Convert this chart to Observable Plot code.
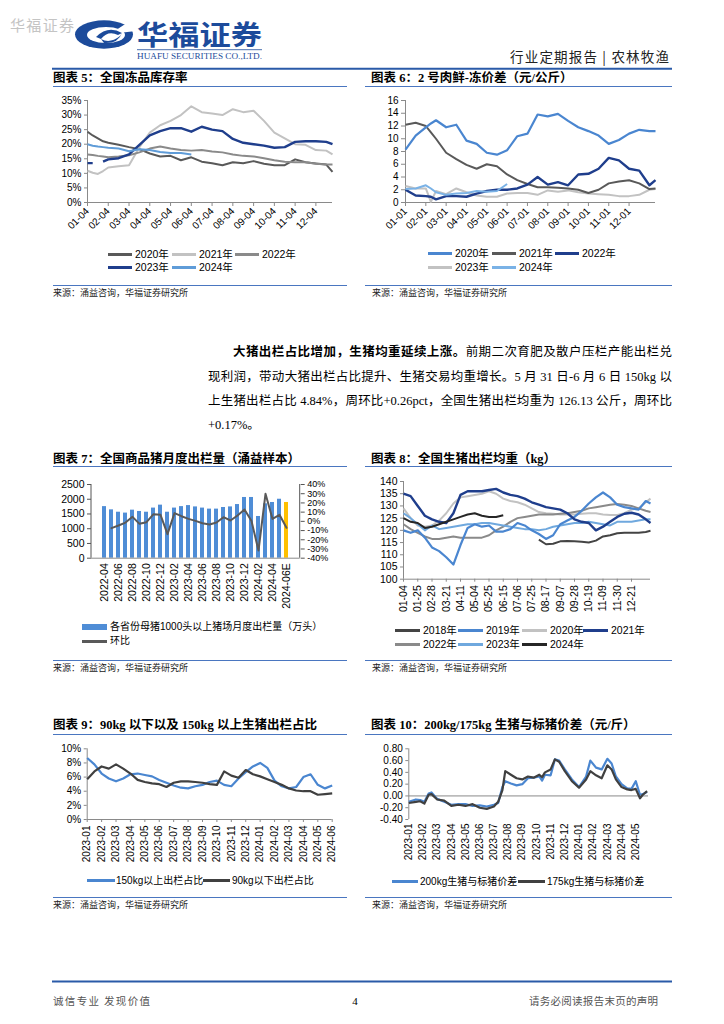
<!DOCTYPE html>
<html><head><meta charset="utf-8">
<script src="https://cdn.jsdelivr.net/npm/d3@7"></script>
<script src="https://cdn.jsdelivr.net/npm/@observablehq/plot@0.6"></script>
<style>
body{margin:0;background:#fff;}
#page{position:relative;width:724px;height:1024px;overflow:hidden;font-family:"Liberation Sans","Noto Sans CJK SC",sans-serif;color:#000;}
.title{position:absolute;white-space:nowrap;font-family:"Liberation Serif","Noto Sans CJK SC",serif;font-weight:700;font-size:12.5px;line-height:14px;}
.rule{position:absolute;height:0;border-top:1.5px solid #4a76c0;}
.src{position:absolute;white-space:nowrap;font-size:9px;line-height:10px;color:#222;font-family:"Noto Sans CJK SC",sans-serif;}
.leg{position:absolute;white-space:nowrap;font-size:10.5px;line-height:12px;font-family:"Liberation Sans","Noto Sans CJK SC",sans-serif;}
.sw{position:absolute;}
.para{position:absolute;white-space:nowrap;font-family:"Liberation Serif","Noto Sans CJK SC",serif;font-size:12.5px;line-height:16px;text-align:justify;text-align-last:justify;}
.chart{position:absolute;}
</style>
</head><body><div id="page">
<svg id="hdr" width="724" height="80" style="position:absolute;left:0;top:0">
  <text x="10" y="31" font-size="15" fill="#c4c4c4" font-family="Noto Sans CJK SC" textLength="64">华福证券</text>
  <ellipse cx="104" cy="34.5" rx="29" ry="14.2" fill="#1c4b9b"/>
  <ellipse cx="106" cy="35" rx="19" ry="8" fill="#fff"/>
  <polygon points="110,34 136,17 136,31" fill="#fff"/>
  <path d="M96,37 Q108,25 122,33 L118,35 Q108,30 101,39 Z" fill="#1c4b9b"/>
  <path d="M101,39 Q110,44 120,36 L122,33 Q118,44 104,43 Z" fill="#1c4b9b"/>
  <text x="137" y="45" font-size="27" font-weight="700" fill="#1c4b9b" font-family="Noto Sans CJK SC" textLength="125" lengthAdjust="spacingAndGlyphs">华福证券</text>
  <line x1="137" x2="262" y1="49.7" y2="49.7" stroke="#1c4b9b" stroke-width="0.8"/>
  <text x="137" y="58.5" font-size="8" fill="#1c4b9b" font-family="Liberation Serif" textLength="125" lengthAdjust="spacingAndGlyphs">HUAFU SECURITIES CO.,LTD.</text>
  <text x="669" y="62" font-size="13.5" text-anchor="end" fill="#222" font-family="Noto Sans CJK SC" textLength="159">行业定期报告 | 农林牧渔</text>
  <line x1="52" x2="672" y1="68.7" y2="68.7" stroke="#2a5aa8" stroke-width="2"/>
</svg>
<svg id="ftr" width="724" height="50" style="position:absolute;left:0;top:974">
  <line x1="52" x2="672" y1="7.5" y2="7.5" stroke="#2a5aa8" stroke-width="2"/>
  <text x="53" y="31" font-size="10.5" fill="#555" font-family="Noto Sans CJK SC" textLength="97">诚信专业  发现价值</text>
  <text x="355" y="31" font-size="11" text-anchor="middle" fill="#000" font-family="Liberation Serif">4</text>
  <text x="658" y="31" font-size="10.5" text-anchor="end" fill="#555" font-family="Noto Sans CJK SC" textLength="129">请务必阅读报告末页的声明</text>
</svg>
</div>
<script>
// ---------------- DATA ----------------
// Chart 5: 全国冻品库存率 (%), x in months from 01-04
const c5X = [0, 0.25, 0.5, 0.75, 1, 1.5, 2, 2.5, 3, 3.5, 4, 4.5, 5, 5.5, 6, 6.5, 7, 7.5, 8, 8.5, 9, 9.5, 10, 10.5, 11, 11.5, 11.8];
const c5TickLabels = ["01-04","02-04","03-04","04-04","05-04","06-04","07-04","08-04","09-04","10-04","11-04","12-04"];
const c5TickPos = [0,1,2,3,4,5,6,7,8,9,10,11];
const c5Y2020 = [24.3,23,22,21,20.5,19.8,19,18.3,16.8,15.8,16,14.5,15.5,14,13.5,12.8,13.8,13.5,14.2,13.3,12.8,12.8,14.8,13.8,13.4,13,10.5];
const c5Y2021 = [10.9,10.2,9.8,10.8,12,12.4,12.8,19,24,26.5,28,30,33,31,30.5,30,32,31,31.5,28,24,22,20,19.8,18,17.8,16.5];
const c5Y2022 = [16.5,16.3,16,15.8,15.5,15.8,16.2,17.2,18.5,19.2,18.5,18,17.8,18,17.5,17.2,16.5,16,15.8,15.2,14.5,14,13.8,13.8,13.3,13,13];
const c5Y2023 = [13.5,13.5,null,14,14.8,15.2,16.5,19.8,23,24.5,25.5,25.5,24.3,26,25,24.5,21.8,20.5,20,19.5,18.8,19,20.8,21,21,20.8,20];
const c5Y2024 = [20,19.5,19.2,19,18.8,18.5,17.6,18.3,18,17.3,17,17,16.5,null,null,null,null,null,null,null,null,null,null,null,null,null,null];

// Chart 6: 2号肉鲜-冻价差 (元/公斤), x in months from 01-01
const c6X = [0,0.5,1,1.25,1.5,2,2.5,3,3.5,4,4.5,5,5.5,6,6.5,7,7.5,8,8.5,9,9.5,10,10.5,11,11.5,12,12.3];
const c6TickLabels = ["01-01","02-01","03-01","04-01","05-01","06-01","07-01","08-01","09-01","10-01","11-01","12-01"];
const c6TickPos = [0,1,2,3,4,5,6,7,8,9,10,11];
const c6Y2020 = [8.3,10.5,11.8,12.4,12.9,11.8,12.2,9.7,9.2,7.8,7.5,8.2,10.4,10.8,13.8,13.5,13.9,12.8,11.8,11.2,10.5,9.2,9.8,10.8,11.4,11.2,11.2];
const c6Y2021 = [12.2,12.5,12,11,10,7.8,6.8,5.9,5.3,6,5.7,4.4,3.5,2.9,2.4,2.4,2.3,2.2,2,1.5,2,3,3.3,3.5,3,2.1,2.2];
const c6Y2022 = [2,1.1,1,0.9,0.5,1,1,0.9,1.4,1.8,2,2,2.2,2.8,4,2.8,3.2,2.7,4.4,4.5,5.3,7,6.6,5.3,5,2.7,3.5];
const c6Y2023 = [2.6,2.2,2.2,0.1,1.8,1.3,2.2,1.6,1.1,0.9,0.9,1.4,1.5,1.5,1.2,1.9,1.7,1.9,1.6,1.4,1.3,1.2,1,1,1.2,2,2.1];
const c6Y2024 = [2.1,2.2,2.7,2.2,1.6,1.2,1.4,1.5,1.8,1.7,1.8,2.9,null,null,null,null,null,null,null,null,null,null,null,null,null,null,null];

// Chart 7: 全国商品猪月度出栏量 (万头) and 环比 (%)
const c7Months = ["2022-04","2022-05","2022-06","2022-07","2022-08","2022-09","2022-10","2022-11","2022-12",
  "2023-01","2023-02","2023-03","2023-04","2023-05","2023-06","2023-07","2023-08","2023-09","2023-10","2023-11","2023-12",
  "2024-01","2024-02","2024-03","2024-04","2024-05","2024-06E"];
const c7Volume = [1750,1640,1560,1530,1630,1585,1560,1700,1800,1560,1700,1750,1785,1740,1700,1665,1665,1720,1740,1820,2060,2060,1415,1845,1890,2000,1890];
const c7MoM = [null,-7.4,-4.5,-1.3,4.9,-2.7,-0.9,7.8,7.1,-13.9,8.9,5.6,2.7,0.5,-2,-3.4,-1.3,4.5,0.9,6.3,12.9,0.3,-31.7,29.9,2.7,7.1,-7];
const c7Estimated = ["2024-06E"];
const c7LeftTicks = [0,500,1000,1500,2000,2500];
const c7RightTicks = [-40,-30,-20,-10,0,10,20,30,40];

// Chart 8: 全国生猪出栏均重 (kg), x = weekly index
const c8X = [0,1.5,3,4.5,6,7.5,9,10.5,12,13.5,15,16.5,18,19.5,21,22.5,24,25.5,27,28.5,30,31.5,33,34.5,36,37.5,39,40.5,42,43.5,45,46.5,48,49.5,51,52];
const c8TickPos = [0,3,6,9,12,15,18,21,24,27,30,33,36,39,42,45,48];
const c8TickLabels = ["01-04","01-25","02-28","03-21","04-11","05-04","05-25","06-15","07-06","07-25","08-17","09-07","09-28","10-19","11-09","11-30","12-21"];
const c8Y2018 = [null,null,null,null,null,null,null,null,null,null,null,null,null,null,null,null,null,null,null,116.2,114.3,114.5,115.5,115.6,115.5,115.3,115,115.8,117.5,118,118.8,119,119,119,119.3,119.8];
const c8Y2019 = [120,119,120,117,113,111.5,109,106,114,121,122.5,121.5,122,119.5,119.5,120.5,123,122,120,118.5,116.5,118,122.5,124,125.5,128,131,133.5,135.5,133.5,130.5,129.5,129,128.5,132,131];
const c8Y2020 = [129,125,122,121.5,122,124,127,131,133.5,134,134.5,135,136,135,133,132,131.5,130.5,129,127.5,127,126.8,126.5,126.5,126.5,126.8,127,127,126.5,126.3,126.3,127,128.5,129,131.5,133];
const c8Y2021 = [135,134,130,126,124.5,123.5,123,127,134.5,136,136,136,136.5,137,135.5,134.5,134,133,131.5,130.5,129.5,129,128.5,127,124.5,123.5,123,120,121.5,123.5,125.5,126.8,127.2,126.5,124.5,123];
const c8Y2022 = [122.5,120.5,119,117.5,116.5,116.5,117,117.5,117,117,117,117,118,120,121.5,123.5,125,125.5,126,126.5,126.5,126.5,126.8,127,127.5,128,129,129.5,130,130.5,130.8,130.5,130,129,128,127.5];
const c8Y2023 = [127,125,122.5,120,122,120.5,121,121.5,122,122.5,122.5,123,123,122.5,122,121.5,121,120.5,120.5,120,120.5,121.5,122,122.5,123,123,123.5,123,122.5,122,123.5,123.5,123.5,124,124.5,124.5];
const c8Y2024 = [125,123.5,123,121,121.5,122.5,123.5,124.5,125.5,126.5,127,126,125.5,125.5,126.2,null,null,null,null,null,null,null,null,null,null,null,null,null,null,null,null,null,null,null,null,null];

// Chart 9: 90kg以下 / 150kg以上 出栏占比 (%), x in months from 2023-01
const c9X = [0,0.5,1,1.5,2,2.5,3,3.5,4,4.5,5,5.5,6,6.5,7,7.5,8,8.5,9,9.5,10,10.5,11,11.5,12,12.5,13,13.5,14,14.5,15,15.5,16,16.5,17];
const c9TickLabels = ["2023-01","2023-02","2023-03","2023-04","2023-05","2023-06","2023-07","2023-08","2023-09","2023-10","2023-11","2023-12","2024-01","2024-02","2024-03","2024-04","2024-05","2024-06"];
const c9TickPos = [0,1,2,3,4,5,6,7,8,9,10,11,12,13,14,15,16,17];
const c9Over150 = [8.7,7.8,6.5,5.8,5.4,5.8,6.4,6.5,6.3,6.1,5.6,5.2,4.8,4.5,4.4,4.7,4.9,5.3,5.5,4.9,4.7,5.8,6.7,7.5,8,7.3,5.5,4.7,4.4,4.6,6,6.4,4.9,4.4,4.8];
const c9Under90 = [5.7,6.8,7.5,7.2,7.8,7.2,6.5,5.6,5.3,5.1,5,4.6,5.2,5.4,5.4,5.3,5.2,5,4.9,6.8,6.2,5.9,7,6.4,6.1,5.7,5.3,4.9,4.4,4.1,4,4,3.5,3.6,3.7];

// Chart 10: 200kg/175kg 生猪与标猪价差 (元/斤), x in months from 2023-01
const c10X = [0,0.5,0.8,1.1,1.4,1.6,2,2.5,3,3.5,4,4.5,5,5.5,6,6.3,6.6,6.8,7.2,7.6,8,8.4,8.8,9.2,9.4,9.6,10,10.3,10.6,11,11.5,12,12.5,12.8,13.2,13.6,14,14.3,14.6,15,15.4,15.7,16,16.3,16.5,16.8];
const c10TickLabels = ["2023-01","2023-02","2023-03","2023-04","2023-05","2023-06","2023-07","2023-08","2023-09","2023-10","2023-11","2023-12","2024-01","2024-02","2024-03","2024-04","2024-05"];
const c10TickPos = [0,1,2,3,4,5,6,7,8,9,10,11,12,13,14,15,16];
const c10Spread200 = [-0.10,-0.06,-0.07,-0.10,0.04,0.06,-0.05,-0.10,-0.15,-0.14,-0.14,-0.17,-0.16,-0.18,-0.15,-0.12,0.15,0.25,0.21,0.18,0.20,0.30,0.31,0.33,0.26,0.36,0.35,0.62,0.60,0.45,0.28,0.15,0.33,0.60,0.48,0.45,0.63,0.55,0.33,0.20,0.13,0.12,0.25,0.02,0.03,0.07];
const c10Spread175 = [-0.12,-0.10,-0.09,-0.13,0.02,0.03,-0.06,-0.08,-0.17,-0.15,-0.17,-0.14,-0.20,-0.22,-0.18,-0.10,0.10,0.42,0.36,0.30,0.28,0.33,0.31,0.36,0.32,0.40,0.45,0.62,0.58,0.42,0.25,0.14,0.28,0.42,0.35,0.30,0.52,0.45,0.28,0.15,0.11,0.10,0.12,-0.04,0.02,0.08];

// ---------------- COLOURS ----------------
const NAVY = "#1f3e8c", MEDBLUE = "#4a86d0", LBLUE = "#6fa8de", DGREY = "#595959", MGREY = "#8a8a8a", LGREY = "#c2c2c2";
const AXIS = "#8a8a8a";

// ---------------- HELPERS ----------------
const page = document.getElementById("page");
function el(cls, css, html) { const d = document.createElement("div"); d.className = cls; Object.assign(d.style, css); if (html != null) d.innerHTML = html; page.appendChild(d); return d; }
function rows(xs, ys) { return xs.map((x, i) => ({x, y: ys[i] == null ? NaN : ys[i]})); }
function labeler(pos, labels) { const m = new Map(pos.map((p, i) => [p, labels[i]])); return d => m.get(d); }
function place(svg, left, top) { const d = el("chart", {left: left + "px", top: top + "px"}); d.appendChild(svg); }
function leg(x1, x2, y, color, label, thick = 3) {
  el("sw", {left: x1 + "px", top: (y - thick / 2) + "px", width: (x2 - x1) + "px", height: thick + "px", background: color});
  if (label) el("leg", {left: (x2 + 3) + "px", top: (y - 6.5) + "px"}, label);
}
const NS = "http://www.w3.org/2000/svg";
function sideLines(sides, color) {
  return (index, scales, values, dim) => {
    const g = document.createElementNS(NS, "g");
    const L = dim.marginLeft, R = dim.width - dim.marginRight, T = dim.marginTop, B = dim.height - dim.marginBottom;
    const seg = {left: [L, T, L, B], right: [R, T, R, B], bottom: [L, B, R, B]};
    for (const s of sides) {
      const [x1, y1, x2, y2] = seg[s];
      const l = document.createElementNS(NS, "line");
      l.setAttribute("x1", x1); l.setAttribute("y1", y1); l.setAttribute("x2", x2); l.setAttribute("y2", y2);
      l.setAttribute("stroke", color); l.setAttribute("stroke-width", 1);
      g.appendChild(l);
    }
    return g;
  };
}
const baseStyle = (fs) => ({fontFamily: '"Liberation Sans","Noto Sans CJK SC",sans-serif', fontSize: fs + "px", background: "transparent", overflow: "visible", color: "#000"});
const line = (data, color, w = 2) => Plot.line(data, {x: "x", y: "y", stroke: color, strokeWidth: w, strokeLinejoin: "round", strokeLinecap: "butt"});

// ---------------- TEXT BLOCKS ----------------
function block(col, titleTop, title, ruleTop, bottomRuleTop) {
  const left = col === 0 ? 53 : 371, rl = col === 0 ? 53 : 365, rr = col === 0 ? 347 : 672;
  el("title", {left: left + "px", top: titleTop + "px"}, title);
  el("rule", {left: rl + "px", top: ruleTop + "px", width: (rr - rl) + "px"});
  el("rule", {left: rl + "px", top: bottomRuleTop + "px", width: (rr - rl) + "px"});
  el("src", {left: (col === 0 ? 53 : 372) + "px", top: (bottomRuleTop + 3) + "px"}, "来源：涌益咨询，华福证券研究所");
}
block(0, 71, "图表 5：全国冻品库存率", 86, 285);
block(1, 71, "图表 6：2 号肉鲜-冻价差（元/公斤）", 86, 285);
block(0, 452, "图表 7：全国商品猪月度出栏量（涌益样本）", 466, 660);
block(1, 452, "图表 8：全国生猪出栏均重（kg）", 466, 660);
block(0, 718, "图表 9：90kg 以下以及 150kg 以上生猪出栏占比", 734, 897);
block(1, 718, "图表 10：200kg/175kg 生猪与标猪价差（元/斤）", 734, 897);

el("para", {left: "233px", top: "344px", width: "439px"}, "<b>大猪出栏占比增加，生猪均重延续上涨。</b>前期二次育肥及散户压栏产能出栏兑");
el("para", {left: "208px", top: "369px", width: "464px"}, "现利润，带动大猪出栏占比提升、生猪交易均重增长。5 月 31 日-6 月 6 日 150kg 以");
el("para", {left: "208px", top: "393px", width: "464px"}, "上生猪出栏占比 4.84%，周环比+0.26pct，全国生猪出栏均重为 126.13 公斤，周环比");
el("para", {left: "208px", top: "417px", textAlignLast: "left", textAlign: "left"}, "+0.17%。");

// ---------------- CHART 5 ----------------
place(Plot.plot({
  width: 312, height: 165, marginLeft: 47, marginRight: 20, marginTop: 10, marginBottom: 53,
  style: baseStyle(10),
  x: {domain: [0, 11.8], label: null},
  y: {domain: [0, 35], label: null},
  marks: [
    Plot.ruleX([0], {stroke: AXIS}),
    Plot.ruleY([0], {stroke: AXIS}),
    Plot.axisY([0,5,10,15,20,25,30,35], {tickFormat: d => d + "%", tickSize: 3, tickPadding: 3, stroke: AXIS, label: null}),
    Plot.axisX(c5TickPos, {tickFormat: labeler(c5TickPos, c5TickLabels), tickRotate: -45, tickSize: 4, tickPadding: 3, stroke: AXIS, label: null}),
    line(rows(c5X, c5Y2020), DGREY),
    line(rows(c5X, c5Y2021), LGREY),
    line(rows(c5X, c5Y2022), MGREY),
    line(rows(c5X, c5Y2023), NAVY, 2.4),
    line(rows(c5X, c5Y2024), "#5f9cd8")
  ]
}), 40, 90);
leg(108, 132, 254, DGREY, "2020年");
leg(172, 196, 254, LGREY, "2021年");
leg(235, 259, 254, MGREY, "2022年");
leg(108, 132, 267, NAVY, "2023年");
leg(172, 196, 267, "#5f9cd8", "2024年");

// ---------------- CHART 6 ----------------
place(Plot.plot({
  width: 305, height: 165, marginLeft: 40, marginRight: 15, marginTop: 10, marginBottom: 53,
  style: baseStyle(10),
  x: {domain: [0, 12.3], label: null},
  y: {domain: [0, 16], label: null},
  marks: [
    Plot.ruleX([0], {stroke: AXIS}),
    Plot.ruleY([0], {stroke: AXIS}),
    Plot.axisY([0,2,4,6,8,10,12,14,16], {tickSize: 4, tickPadding: 3, stroke: AXIS, label: null}),
    Plot.axisX(c6TickPos, {tickFormat: labeler(c6TickPos, c6TickLabels), tickRotate: -45, tickSize: 4, tickPadding: 3, stroke: AXIS, label: null}),
    line(rows(c6X, c6Y2023), LGREY),
    line(rows(c6X, c6Y2021), DGREY),
    line(rows(c6X, c6Y2022), NAVY, 2.4),
    line(rows(c6X, c6Y2024), "#7ab2e6"),
    line(rows(c6X, c6Y2020), MEDBLUE, 2.2)
  ]
}), 365, 90);
leg(428, 452, 253, MEDBLUE, "2020年");
leg(492, 516, 253, DGREY, "2021年");
leg(555, 579, 253, NAVY, "2022年");
leg(428, 452, 267, LGREY, "2023年");
leg(492, 516, 267, "#7ab2e6", "2024年");

// ---------------- CHART 7 ----------------
const toLeft = p => (p + 40) / 80 * 2500;
const c7Bars = c7Months.map((m, i) => ({m, v: c7Volume[i], est: c7Estimated.includes(m)}));
const c7Line = c7Months.map((m, i) => ({m, p: c7MoM[i]})).filter(d => d.p != null);
place(Plot.plot({
  width: 300, height: 140, marginLeft: 51, marginRight: 40.3, marginTop: 9, marginBottom: 57.3,
  style: baseStyle(10.5),
  x: {type: "band", domain: c7Months, paddingInner: 0.44, paddingOuter: 0.238, label: null},
  y: {domain: [0, 2500], label: null},
  marks: [
    Plot.barY(c7Bars.filter(d => !d.est), {x: "m", y: "v", fill: "#4f8dd6"}),
    Plot.barY(c7Bars.filter(d => d.est), {x: "m", y: "v", fill: "#ffc000"}),
    Plot.ruleY([0], {stroke: AXIS}),
    sideLines(["left", "right"], "#555"),
    Plot.axisY(c7LeftTicks, {tickFormat: d => String(d), tickSize: 4, tickPadding: 3, stroke: "#555", label: null}),
    Plot.axisY(c7RightTicks.map(toLeft), {anchor: "right", tickFormat: v => Math.round(v / 2500 * 80 - 40) + "%", tickSize: 4, tickPadding: 3, stroke: "#555", fontSize: 9, label: null}),
    Plot.axisX(c7Months.filter((d, i) => i % 2 === 0), {tickRotate: -90, tickSize: 0, tickPadding: 5, label: null}),
    Plot.line(c7Line, {x: "m", y: d => toLeft(d.p), stroke: DGREY, strokeWidth: 2, strokeLinejoin: "round"})
  ]
}), 40, 475);
leg(82, 107, 626.7, "#4f8dd6", null, 6);
el("leg", {left: "110px", top: "620.5px", fontSize: "10px"}, "各省份母猪1000头以上猪场月度出栏量（万头）");
leg(82, 107, 641, DGREY, null, 3);
el("leg", {left: "110px", top: "635px", fontSize: "10px"}, "环比");

// ---------------- CHART 8 ----------------
place(Plot.plot({
  width: 305, height: 150, marginLeft: 38, marginRight: 20, marginTop: 8, marginBottom: 44.3,
  style: baseStyle(10.5),
  x: {domain: [0, 52], label: null},
  y: {domain: [100, 140], label: null},
  marks: [
    Plot.ruleX([0], {stroke: AXIS}),
    Plot.ruleY([100], {stroke: AXIS}),
    Plot.axisY([100,105,110,115,120,125,130,135,140], {tickSize: 3, tickPadding: 3, stroke: AXIS, label: null}),
    Plot.axisX(c8TickPos, {tickFormat: labeler(c8TickPos, c8TickLabels), tickRotate: -90, tickSize: 3, tickPadding: 3, stroke: AXIS, label: null}),
    line(rows(c8X, c8Y2020), LGREY),
    line(rows(c8X, c8Y2022), MGREY),
    line(rows(c8X, c8Y2023), LBLUE),
    line(rows(c8X, c8Y2019), MEDBLUE, 2.2),
    line(rows(c8X, c8Y2021), NAVY, 2.4),
    line(rows(c8X, c8Y2018), "#444444"),
    line(rows(c8X, c8Y2024), "#262626")
  ]
}), 365, 473);
leg(395, 420, 630, "#444444", "2018年");
leg(458, 483, 630, MEDBLUE, "2019年");
leg(522, 547, 630, LGREY, "2020年");
leg(583, 608, 630, NAVY, "2021年");
leg(395, 420, 644, MGREY, "2022年");
leg(458, 483, 644, LBLUE, "2023年");
leg(522, 547, 644, "#262626", "2024年");

// ---------------- CHART 9 ----------------
place(Plot.plot({
  width: 310, height: 130, marginLeft: 46.7, marginRight: 18.3, marginTop: 8.3, marginBottom: 51,
  style: baseStyle(10),
  x: {domain: [0, 17], label: null},
  y: {domain: [0, 10], label: null},
  marks: [
    Plot.ruleX([0], {stroke: AXIS}),
    Plot.ruleY([0], {stroke: AXIS}),
    Plot.axisY([0,2,4,6,8,10], {tickFormat: d => d + "%", tickSize: 3, tickPadding: 3, stroke: AXIS, label: null}),
    Plot.axisX(c9TickPos, {tickFormat: labeler(c9TickPos, c9TickLabels), tickRotate: -90, tickSize: 3, tickPadding: 3, stroke: AXIS, label: null}),
    line(rows(c9X, c9Over150), MEDBLUE, 2.2),
    line(rows(c9X, c9Under90), "#404040", 2.2)
  ]
}), 40, 740);
leg(86.7, 115, 880.7, MEDBLUE, null, 3);
el("leg", {left: "116px", top: "874.5px", fontSize: "10px"}, "150kg以上出栏占比");
leg(203, 230, 880.7, "#404040", null, 3);
el("leg", {left: "232px", top: "874.5px", fontSize: "10px"}, "90kg以下出栏占比");

// ---------------- CHART 10 ----------------
place(Plot.plot({
  width: 305, height: 130, marginLeft: 43.3, marginRight: 22, marginTop: 8.3, marginBottom: 51,
  style: baseStyle(10),
  x: {domain: [0, 16.9], label: null},
  y: {domain: [-0.4, 0.8], label: null},
  marks: [
    Plot.ruleX([0], {stroke: AXIS}),
    Plot.ruleY([0], {stroke: AXIS}),
    Plot.axisY([-0.4,-0.2,0,0.2,0.4,0.6,0.8], {tickFormat: d => d.toFixed(2), tickSize: 3, tickPadding: 3, stroke: AXIS, label: null}),
    Plot.axisX(c10TickPos, {tickFormat: labeler(c10TickPos, c10TickLabels), tickRotate: -90, tickSize: 0, tickPadding: 4, label: null}),
    line(rows(c10X, c10Spread200), MEDBLUE, 2.2),
    line(rows(c10X, c10Spread175), "#404040", 2.2)
  ]
}), 365, 740);
leg(391.7, 418, 881.7, MEDBLUE, null, 3);
el("leg", {left: "420px", top: "875.5px", fontSize: "10px"}, "200kg生猪与标猪价差");
leg(518, 545, 881.7, "#404040", null, 3);
el("leg", {left: "547px", top: "875.5px", fontSize: "10px"}, "175kg生猪与标猪价差");
</script>
</body></html>
